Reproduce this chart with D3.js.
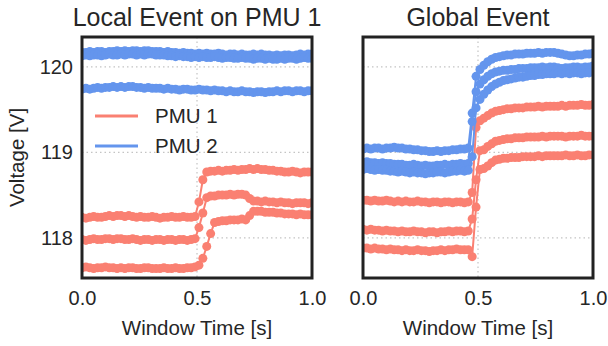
<!DOCTYPE html>
<html>
<head>
<meta charset="utf-8">
<script src="https://cdn.jsdelivr.net/npm/d3@7"></script>
<style>
  body { margin: 0; background: #fff; }
  svg { display: block; font-family: "Liberation Sans", Arial, sans-serif; }
</style>
</head>
<body>
<div class="container"></div>
<script>
// 60 samples per window, t = i / 59
const sampleCount = 60;
const xTicks = [0.0, 0.5, 1.0];
const yTicks = [118, 119, 120];
const panelTitles = ['Local Event on PMU 1', 'Global Event'];
const legendLabels = ['PMU 1', 'PMU 2'];

// Local event: PMU 1 phases (red)
const localPmu1A = [
  118.24,118.23,118.24,118.25,118.24,118.24,118.25,118.26,118.25,118.26,
  118.26,118.25,118.26,118.25,118.24,118.25,118.24,118.24,118.25,118.24,
  118.23,118.24,118.24,118.25,118.24,118.24,118.25,118.24,118.24,118.25,
  118.42,118.68,118.77,118.78,118.78,118.79,118.78,118.79,118.79,118.80,
  118.79,118.80,118.80,118.81,118.80,118.81,118.80,118.80,118.79,118.79,
  118.78,118.78,118.77,118.77,118.78,118.77,118.76,118.77,118.77,118.77];
const localPmu1B = [
  117.98,117.97,117.98,117.99,117.98,117.98,117.99,117.99,117.98,117.99,
  117.99,117.98,117.98,117.99,117.98,117.97,117.98,117.98,117.97,117.98,
  117.98,117.97,117.98,117.98,117.97,117.98,117.98,117.97,117.98,117.99,
  118.12,118.29,118.47,118.49,118.49,118.50,118.50,118.50,118.51,118.50,
  118.51,118.51,118.50,118.46,118.43,118.43,118.42,118.43,118.42,118.42,
  118.41,118.42,118.41,118.41,118.40,118.41,118.41,118.41,118.40,118.41];
const localPmu1C = [
  117.65,117.66,117.65,117.64,117.65,117.65,117.66,117.65,117.65,117.64,
  117.65,117.64,117.65,117.65,117.64,117.64,117.65,117.65,117.64,117.64,
  117.64,117.65,117.64,117.64,117.65,117.64,117.64,117.65,117.65,117.66,
  117.68,117.76,117.90,118.05,118.18,118.19,118.20,118.20,118.21,118.21,
  118.21,118.22,118.21,118.26,118.31,118.31,118.31,118.30,118.30,118.30,
  118.29,118.29,118.28,118.28,118.28,118.27,118.28,118.27,118.27,118.27];

// Local event: PMU 2 phases (blue)
const localPmu2A = [
  120.17,120.17,120.18,120.17,120.18,120.18,120.17,120.18,120.18,120.19,
  120.18,120.19,120.18,120.19,120.19,120.18,120.19,120.19,120.18,120.18,
  120.18,120.17,120.18,120.17,120.17,120.16,120.17,120.16,120.16,120.15,
  120.16,120.15,120.16,120.15,120.15,120.16,120.15,120.14,120.15,120.15,
  120.14,120.15,120.14,120.14,120.15,120.14,120.15,120.14,120.14,120.13,
  120.14,120.13,120.14,120.14,120.13,120.14,120.15,120.14,120.15,120.15];
const localPmu2B = [
  120.13,120.14,120.13,120.14,120.14,120.13,120.14,120.15,120.14,120.14,
  120.15,120.14,120.15,120.15,120.14,120.15,120.14,120.15,120.15,120.14,
  120.14,120.14,120.13,120.13,120.12,120.13,120.12,120.12,120.11,120.12,
  120.11,120.12,120.11,120.11,120.12,120.11,120.10,120.11,120.11,120.10,
  120.10,120.11,120.10,120.10,120.09,120.10,120.10,120.09,120.10,120.09,
  120.09,120.10,120.09,120.10,120.10,120.09,120.10,120.11,120.10,120.10];
const localPmu2C = [
  119.74,119.75,119.74,119.75,119.76,119.75,119.76,119.76,119.77,119.76,
  119.77,119.76,119.77,119.77,119.76,119.76,119.75,119.76,119.75,119.75,
  119.75,119.74,119.75,119.74,119.74,119.73,119.74,119.74,119.73,119.73,
  119.74,119.73,119.73,119.72,119.73,119.72,119.72,119.71,119.72,119.71,
  119.71,119.72,119.71,119.71,119.70,119.71,119.71,119.70,119.71,119.71,
  119.72,119.71,119.72,119.72,119.71,119.72,119.72,119.71,119.72,119.72];

// Global event: PMU 1 phases (red)
const globalPmu1A = [
  118.44,118.44,118.43,118.44,118.43,118.43,118.44,118.43,118.42,118.43,
  118.42,118.43,118.42,118.42,118.43,118.42,118.42,118.41,118.42,118.42,
  118.41,118.42,118.42,118.41,118.42,118.42,118.41,118.42,118.53,119.29,
  119.37,119.40,119.43,119.46,119.48,119.49,119.50,119.51,119.51,119.52,
  119.52,119.52,119.53,119.53,119.53,119.54,119.53,119.54,119.54,119.54,
  119.54,119.55,119.54,119.55,119.55,119.55,119.56,119.55,119.55,119.56];
const globalPmu1B = [
  118.10,118.09,118.10,118.09,118.09,118.08,118.09,118.08,118.08,118.07,
  118.08,118.07,118.07,118.08,118.07,118.07,118.06,118.07,118.07,118.06,
  118.07,118.07,118.08,118.07,118.08,118.08,118.07,118.08,118.22,118.68,
  119.02,119.03,119.07,119.10,119.13,119.14,119.15,119.16,119.16,119.17,
  119.17,119.17,119.18,119.18,119.18,119.18,119.19,119.18,119.19,119.19,
  119.19,119.19,119.18,119.19,119.19,119.19,119.20,119.19,119.19,119.19];
const globalPmu1C = [
  117.88,117.88,117.87,117.88,117.87,117.87,117.86,117.87,117.86,117.86,
  117.85,117.86,117.85,117.85,117.86,117.85,117.85,117.84,117.85,117.85,
  117.86,117.85,117.86,117.86,117.87,117.86,117.86,117.86,117.78,118.36,
  118.80,118.81,118.84,118.88,118.91,118.92,118.93,118.93,118.94,118.94,
  118.94,118.95,118.95,118.95,118.95,118.96,118.95,118.96,118.96,118.96,
  118.96,118.96,118.97,118.96,118.96,118.97,118.96,118.96,118.97,118.97];

// Global event: PMU 2 phases (blue)
const globalPmu2A = [
  119.04,119.05,119.04,119.05,119.05,119.04,119.05,119.05,119.06,119.05,
  119.05,119.04,119.04,119.03,119.03,119.02,119.02,119.01,119.01,119.02,
  119.01,119.02,119.02,119.03,119.03,119.04,119.04,119.05,119.46,119.89,
  119.97,120.02,120.06,120.09,120.11,120.12,120.13,120.14,120.14,120.15,
  120.15,120.15,120.16,120.16,120.16,120.17,120.16,120.17,120.17,120.17,
  120.16,120.15,120.14,120.13,120.13,120.14,120.14,120.15,120.15,120.16];
const globalPmu2B = [
  118.88,118.89,118.88,118.88,118.87,118.88,118.87,118.87,118.86,118.86,
  118.86,118.85,118.85,118.86,118.85,118.84,118.85,118.84,118.84,118.85,
  118.85,118.86,118.85,118.86,118.86,118.87,118.86,118.87,119.36,119.71,
  119.80,119.85,119.89,119.92,119.94,119.95,119.96,119.96,119.97,119.97,
  119.98,119.98,119.98,119.99,119.99,119.99,120.00,119.99,120.00,120.00,
  119.99,119.98,119.99,119.99,120.00,120.00,119.99,120.00,120.00,120.01];
const globalPmu2C = [
  118.80,118.81,118.80,118.79,118.80,118.79,118.79,118.78,118.78,118.77,
  118.78,118.77,118.76,118.77,118.76,118.76,118.75,118.76,118.76,118.77,
  118.77,118.76,118.77,118.78,118.78,118.79,118.78,118.79,118.95,119.52,
  119.62,119.68,119.73,119.77,119.80,119.82,119.84,119.85,119.86,119.87,
  119.88,119.88,119.89,119.90,119.90,119.91,119.91,119.92,119.92,119.92,
  119.93,119.92,119.93,119.92,119.93,119.93,119.92,119.93,119.93,119.94];

const panelSeries = [
  { pmu1: [localPmu1A, localPmu1B, localPmu1C], pmu2: [localPmu2A, localPmu2B, localPmu2C] },
  { pmu1: [globalPmu1A, globalPmu1B, globalPmu1C], pmu2: [globalPmu2A, globalPmu2B, globalPmu2C] },
];

// Layout
const width = 608;
const height = 346;
const panelLeft = [82, 363];
const panelWidth = 230;
const plotTop = 37;
const plotBottom = 278;
const red = 'salmon';
const blue = 'cornflowerblue';
const textColor = '#262626';

const svg = d3
  .select('.container')
  .append('svg')
  .attr('width', width)
  .attr('height', height);

const y = d3.scaleLinear().domain([117.53, 120.35]).range([plotBottom, plotTop]);

panelSeries.forEach((panel, p) => {
  const x = d3
    .scaleLinear()
    .domain([0, 1])
    .range([panelLeft[p], panelLeft[p] + panelWidth]);

  const g = svg.append('g');

  // clip
  const clipId = `clip-${p}`;
  svg
    .append('clipPath')
    .attr('id', clipId)
    .append('rect')
    .attr('x', x(0))
    .attr('y', plotTop)
    .attr('width', panelWidth)
    .attr('height', plotBottom - plotTop);

  // Grid
  g.selectAll('.vgrid')
    .data([0.5])
    .enter()
    .append('line')
    .attr('x1', (d) => x(d))
    .attr('x2', (d) => x(d))
    .attr('y1', plotTop)
    .attr('y2', plotBottom)
    .attr('stroke', '#c4c4c4')
    .attr('stroke-width', 1.2)
    .attr('stroke-dasharray', '1.5,3');

  g.selectAll('.hgrid')
    .data(yTicks)
    .enter()
    .append('line')
    .attr('x1', x(0))
    .attr('x2', x(1))
    .attr('y1', (d) => y(d))
    .attr('y2', (d) => y(d))
    .attr('stroke', '#c4c4c4')
    .attr('stroke-width', 1.2)
    .attr('stroke-dasharray', '1.5,3');

  // Lines
  const line = d3
    .line()
    .x((d, i) => x(i / (sampleCount - 1)))
    .y((d) => y(d));

  const plot = g.append('g').attr('clip-path', `url(#${clipId})`);
  const groups = [
    ...panel.pmu1.map((s) => ({ values: s, color: red })),
    ...panel.pmu2.map((s) => ({ values: s, color: blue })),
  ];

  groups.forEach((s) => {
    const sg = plot.append('g');
    sg.append('path')
      .attr('d', line(s.values))
      .attr('fill', 'none')
      .attr('stroke', s.color)
      .attr('stroke-width', 2);
    sg.selectAll('circle')
      .data(s.values)
      .enter()
      .append('circle')
      .attr('cx', (d, i) => x(i / (sampleCount - 1)))
      .attr('cy', (d) => y(d))
      .attr('r', 4.5)
      .attr('fill', s.color);
  });

  // Frame
  g.append('rect')
    .attr('x', x(0))
    .attr('y', plotTop)
    .attr('width', panelWidth)
    .attr('height', plotBottom - plotTop)
    .attr('fill', 'none')
    .attr('stroke', '#222')
    .attr('stroke-width', 3);

  // X axis
  const xAxis = g
    .append('g')
    .attr('transform', `translate(0, ${plotBottom})`)
    .call(
      d3.axisBottom(x).tickValues(xTicks).tickFormat(d3.format('.1f')).tickSize(0).tickPadding(13)
    );
  xAxis.select('.domain').remove();
  xAxis
    .selectAll('text')
    .style('font-size', '20px')
    .style('font-family', '"Liberation Sans", Arial, sans-serif')
    .attr('fill', textColor);

  // Y axis only on first panel
  if (p === 0) {
    const yAxis = g
      .append('g')
      .attr('transform', `translate(${x(0)}, 0)`)
      .call(d3.axisLeft(y).tickValues(yTicks).tickFormat(d3.format('d')).tickSize(0).tickPadding(9));
    yAxis.select('.domain').remove();
    yAxis
      .selectAll('text')
      .style('font-size', '20px')
      .style('font-family', '"Liberation Sans", Arial, sans-serif')
      .attr('fill', textColor);
  }

  // Title
  g.append('text')
    .attr('x', x(0.5))
    .attr('y', 26)
    .attr('text-anchor', 'middle')
    .style('font-size', '25px')
    .attr('fill', textColor)
    .text(panelTitles[p]);

  // X label
  g.append('text')
    .attr('x', x(0.5))
    .attr('y', 335)
    .attr('text-anchor', 'middle')
    .style('font-size', '20.5px')
    .attr('fill', textColor)
    .text('Window Time [s]');
});

// Y label
svg
  .append('text')
  .attr('transform', `translate(24, ${(plotTop + plotBottom) / 2}) rotate(-90)`)
  .attr('text-anchor', 'middle')
  .style('font-size', '20.5px')
  .attr('fill', textColor)
  .text('Voltage [V]');

// Legend
const legend = svg.append('g');
legend
  .selectAll('line')
  .data(legendLabels)
  .enter()
  .append('line')
  .attr('x1', 95)
  .attr('x2', 138)
  .attr('y1', (d, i) => 116 + i * 30)
  .attr('y2', (d, i) => 116 + i * 30)
  .attr('stroke', (d, i) => (i === 0 ? red : blue))
  .attr('stroke-width', 3);
legend
  .selectAll('text')
  .data(legendLabels)
  .enter()
  .append('text')
  .attr('x', 155)
  .attr('y', (d, i) => 116 + i * 30)
  .attr('dy', '0.35em')
  .style('font-size', '20.5px')
  .attr('fill', textColor)
  .text((d) => d);
</script>
</body>
</html>
